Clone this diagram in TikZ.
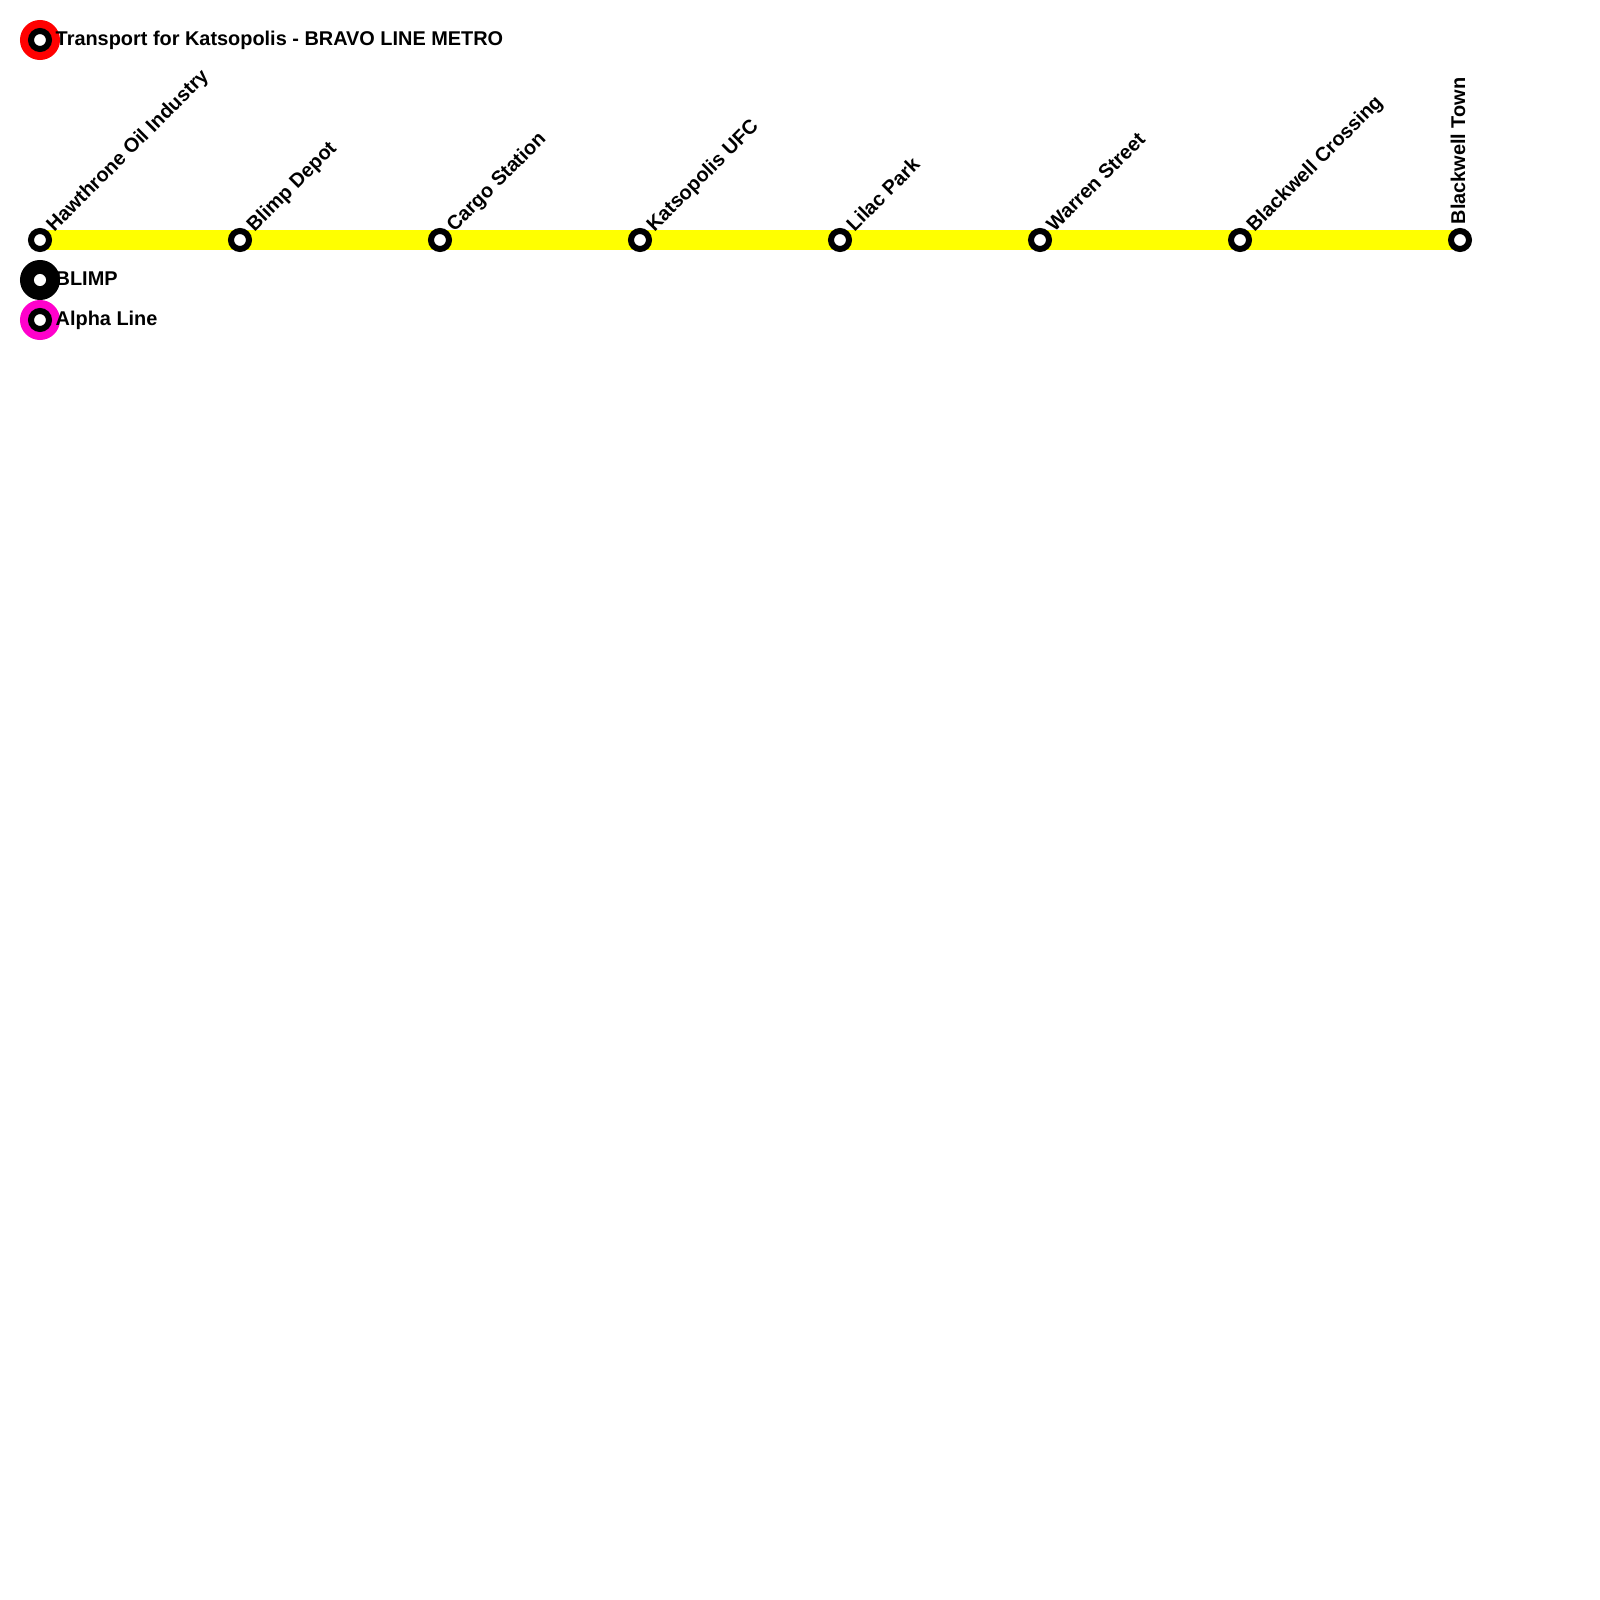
\documentclass[tikz,border=0pt]{standalone}
\usepackage{fontspec}
\setmainfont{Liberation Sans}
\usepackage{xcolor}
\usetikzlibrary{backgrounds}
\definecolor{alphapink}{RGB}{255,0,204}
\definecolor{bravoyellow}{RGB}{255,255,0}
\tikzset{stn/.style={circle,draw=black,fill=white,line width=.06cm,minimum size=.18cm,inner sep=0pt,outer sep=0pt},
 disc/.style={circle,minimum size=.4cm,inner sep=0pt,outer sep=0pt},
 lbl/.style={font=\fontsize{5.66pt}{6.8pt}\bfseries,inner sep=0pt,anchor=base west},
 slant/.style={lbl,rotate=45},
 line/.style={bravoyellow,line width=.2cm}}
\begin{document}
\begin{tikzpicture}[x=.01cm,y=-.01cm]
\useasboundingbox (0,0) rectangle (1600,1600);
% legend at the top
\node[disc,fill=red](dred) at (40,40){};
\node[stn](kred) at (40,40){};
\node[lbl](tred) at (55,45.5){Transport for Katsopolis - BRAVO LINE METRO};
% stops along the line
\node[stn](hw) at (40,240){};\node[stn](bd) at (240,240){};
\node[stn](cs) at (440,240){};\node[stn](ku) at (640,240){};
\node[stn](lp) at (840,240){};\node[stn](ws) at (1040,240){};
\node[stn](bc) at (1240,240){};\node[stn](bt) at (1460,240){};
\begin{scope}[on background layer]
\draw[line](hw.center)--(bd.center)--(cs.center)--(ku.center)--(lp.center)--(ws.center)--(bc.center)--(bt.center);
\end{scope}
\node[slant](thw) at (54,233){Hawthrone Oil Industry};
\node[slant](tbd) at (254,233){Blimp Depot};
\node[slant](tcs) at (454,233){Cargo Station};
\node[slant](tku) at (654,233){Katsopolis UFC};
\node[slant](tlp) at (854,233){Lilac Park};
\node[slant](tws) at (1054,233){Warren Street};
\node[slant](tbc) at (1254,233){Blackwell Crossing};
\node[lbl,rotate=90](tbt) at (1465,225){Blackwell Town};
% the other two lines
\node[disc,fill=black](dblk) at (40,280){};
\node[disc,fill=white,minimum size=.12cm](kblk) at (40,280){};
\node[lbl](tblk) at (55,285.5){BLIMP};
\node[disc,fill=alphapink](dpnk) at (40,320){};
\node[stn](kpnk) at (40,320){};
\node[lbl](tpnk) at (55,325.5){Alpha Line};
\end{tikzpicture}
\end{document}
